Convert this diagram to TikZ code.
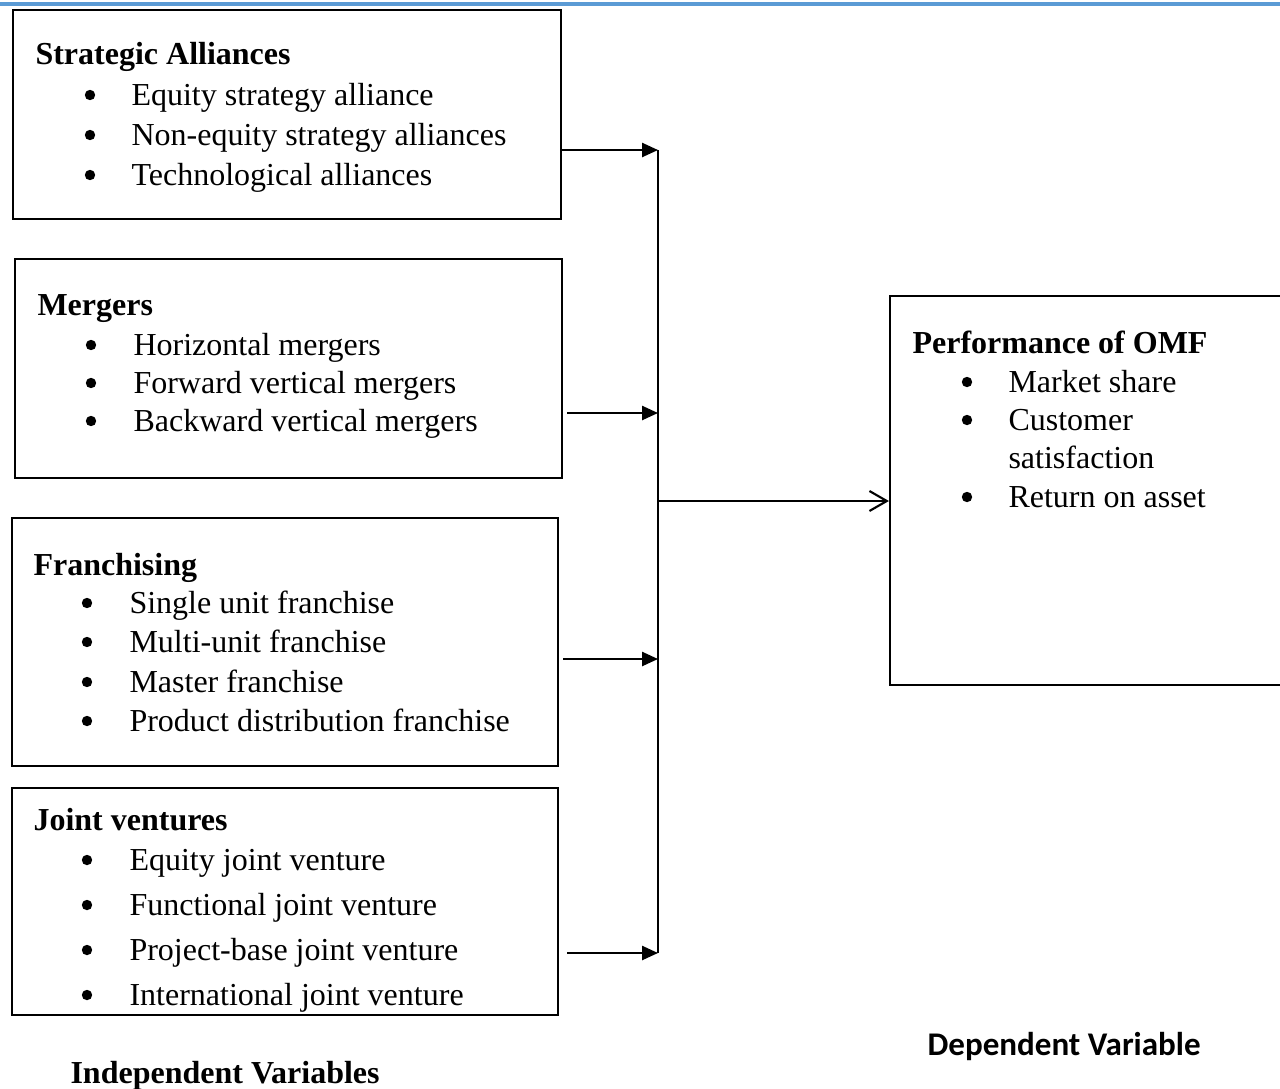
\documentclass[tikz,border=0pt]{standalone}
\usepackage{fontspec}
\setmainfont{Liberation Serif}
\newfontfamily\calib{Carlito}
\usetikzlibrary{arrows.meta, fit, positioning}
\newcommand\twelve{\fontsize{12}{14}\selectfont}
\definecolor{wordblue}{RGB}{91,155,213}
\tikzset{
  box/.style={draw, line width=0.8pt, inner sep=0pt},
  head/.style={anchor=base west, inner sep=0pt, font=\twelve\bfseries},
  item/.style={anchor=base west, inner sep=0pt, font=\twelve},
  dot/.style={circle, fill, inner sep=0pt, minimum size=3.9pt},
  feed/.style={line width=0.8pt, -{Triangle[length=6pt,width=5.3pt]}},
  bus/.style={line width=0.8pt},
  outarrow/.style={line width=0.8pt, -{Straight Barb[length=6.5pt,width=7.5pt]}}
}
\begin{document}
\begin{tikzpicture}[x=0.375pt, y=-0.375pt]
		\useasboundingbox (0,0) rectangle (1280,1089);
		\clip (0,0) rectangle (1280,1089);
		\draw[wordblue, line width=1.5pt] (0,4) -- (1280,4);
		% independent variable boxes
		\node[box, fit={(13,10) (561,219)}] (sa) {};
		\node[box, fit={(15,259) (562,478)}] (mg) {};
		\node[box, fit={(12,518) (558,766)}] (fr) {};
		\node[box, fit={(12,788) (558,1015)}] (jv) {};
		\node[head] (saH) at (35,64) {Strategic Alliances};
		\node[head] (mgH) at (37,315) {Mergers};
		\node[head] (frH) at (33,575) {Franchising};
		\node[head] (jvH) at (33,830) {Joint ventures};
		\foreach \bx/\tx/\y/\id/\txt in {
			90/131/105/sa1/{Equity strategy alliance},
			90/131/145/sa2/{Non-equity strategy alliances},
			90/131/185/sa3/{Technological alliances},
			91/133/355/mg1/{Horizontal mergers},
			91/133/393/mg2/{Forward vertical mergers},
			91/133/431/mg3/{Backward vertical mergers},
			87/129/613/fr1/{Single unit franchise},
			87/129/652/fr2/{Multi-unit franchise},
			87/129/692/fr3/{Master franchise},
			87/129/731/fr4/{Product distribution franchise},
			87/129/870/jv1/{Equity joint venture},
			87/129/915/jv2/{Functional joint venture},
			87/129/960/jv3/{Project-base joint venture},
			87/129/1005/jv4/{International joint venture}
		}{
			\node[dot] (d\id) at (\bx,\y-10) {};
			\node[item] (\id) at (\tx,\y) {\txt};
		}
		% dependent variable box
		\node[box, fit={(890,296) (1300,685)}] (pf) {};
		\node[head] (pfH) at (912,353) {Performance of OMF};
		\foreach \y/\id/\txt in {
			392/pf1/{Market share},
			430/pf2/{Customer},
			507/pf3/{Return on asset}
		}{
			\node[dot] (d\id) at (967,\y-10) {};
			\node[item] (\id) at (1008,\y) {\txt};
		}
		\node[item] (pf2b) at (1008,468) {satisfaction};
		% connectors
		\coordinate (b1) at (658,150);
		\coordinate (b2) at (658,413);
		\coordinate (b3) at (658,659);
		\coordinate (b4) at (658,953);
		\coordinate (bm) at (658,501);
		\draw[feed] (sa.east |- b1) -- (b1);
		\draw[feed, shorten <=1.5pt] (mg.east |- b2) -- (b2);
		\draw[feed, shorten <=1.5pt] (fr.east |- b3) -- (b3);
		\draw[feed, shorten <=3pt] (jv.east |- b4) -- (b4);
		\draw[bus] (b1) -- (b4);
		\draw[outarrow] (bm) -- (pf.west |- bm);
		% captions
		\node[head] (iv) at (70,1083) {Independent Variables};
		\node[anchor=base west, inner sep=0pt, font=\fontsize{12.4}{14}\selectfont\calib\bfseries] (dv) at (927,1055) {Dependent Variable};
\end{tikzpicture}
\end{document}
